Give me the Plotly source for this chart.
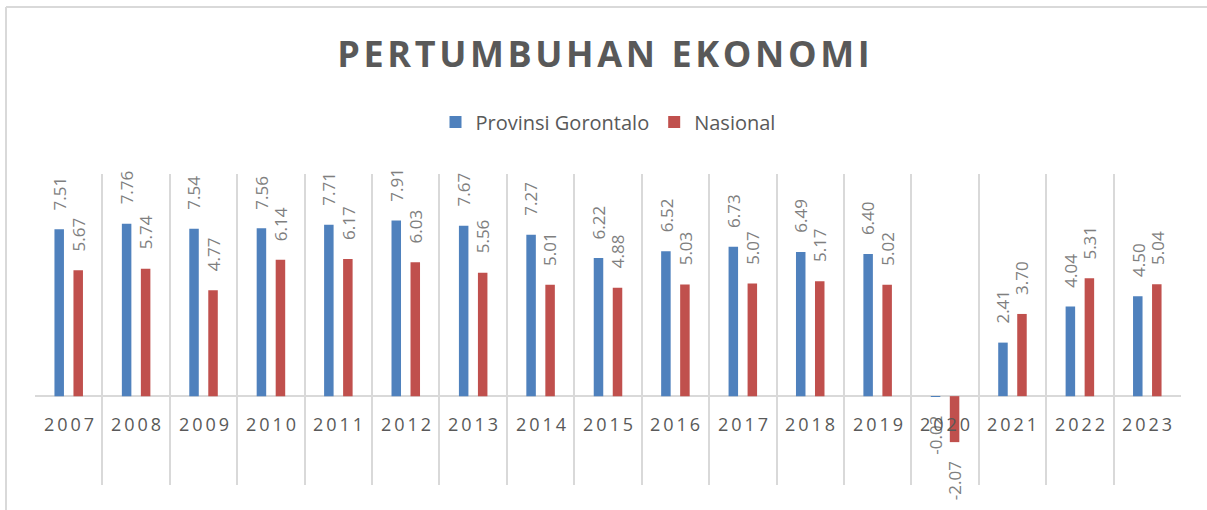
import plotly.graph_objects as go

years = ["2007", "2008", "2009", "2010", "2011", "2012", "2013", "2014", "2015",
         "2016", "2017", "2018", "2019", "2020", "2021", "2022", "2023"]
gorontalo = [7.51, 7.76, 7.54, 7.56, 7.71, 7.91, 7.67, 7.27, 6.22,
             6.52, 6.73, 6.49, 6.40, -0.02, 2.41, 4.04, 4.50]
nasional = [5.67, 5.74, 4.77, 6.14, 6.17, 6.03, 5.56, 5.01, 4.88,
            5.03, 5.07, 5.17, 5.02, -2.07, 3.70, 5.31, 5.04]
title_text = "PERTUMBUHAN EKONOMI"

BLUE = "#4f81bd"
RED = "#c0504d"
FONT = "Open Sans"
TXT = "#595959"
LBL = "#7f7f7f"

fig = go.Figure()
fig.add_trace(go.Bar(name="Provinsi Gorontalo", x=years, y=gorontalo,
                     marker_color=BLUE, marker_line_width=0))
fig.add_trace(go.Bar(name="Nasional", x=years, y=nasional,
                     marker_color=RED, marker_line_width=0))

bargap = 0.436
offset = (1 - bargap) / 4  # centre of each bar slot relative to category centre

annotations = []
for series, sign in ((gorontalo, -1), (nasional, 1)):
    for i, v in enumerate(series):
        annotations.append(dict(
            x=i + sign * offset, y=v, xref="x", yref="y",
            text=f"{v:.2f}", textangle=-90, showarrow=False,
            yanchor="bottom" if v >= 0 else "top",
            yshift=17 if v >= 0 else -17,
            font=dict(family=FONT, size=17, color=LBL)))

for i, yr in enumerate(years):
    annotations.append(dict(
        x=i, y=0, xref="x", yref="y", text="\u2009".join(yr), showarrow=False,
        yanchor="top", yshift=-14, font=dict(family=FONT, size=18, color=TXT)))

fig.update_layout(
    width=1207, height=510,
    margin=dict(l=35, r=26, t=174, b=25),
    paper_bgcolor="white", plot_bgcolor="white",
    barmode="group", bargap=bargap, bargroupgap=0.5,
    title=dict(text="\u200a".join(title_text),
               x=0.5, xanchor="center", y=1 - 54 / 510, yanchor="middle", yref="container",
               font=dict(family=FONT, size=36, color=TXT, weight="bold")),
    showlegend=True,
    legend=dict(orientation="h", x=0.5, xanchor="center", y=1.167, yanchor="middle",
                font=dict(family=FONT, size=20, color=TXT), itemwidth=30),
    xaxis=dict(type="category", range=[-0.5, len(years) - 0.5], tickson="boundaries",
               showticklabels=False, ticks="", showgrid=True, gridcolor="#d9d9d9",
               gridwidth=1.5, zeroline=False, showline=False),
    yaxis=dict(range=[-4, 10], showgrid=False, showticklabels=False, ticks="",
               zeroline=True, zerolinecolor="#d9d9d9", zerolinewidth=2, showline=False),
    annotations=annotations,
    shapes=[
        dict(type="line", xref="paper", yref="paper", x0=-0.0253, x1=-0.0253,
             y0=-0.09, y1=1.537, line=dict(color="#d9d9d9", width=2)),
        dict(type="line", xref="paper", yref="paper", x0=-0.0253, x1=1.03,
             y0=1.537, y1=1.537, line=dict(color="#d9d9d9", width=2)),
    ],
)

fig.write_html("out.html", config={"displayModeBar": False},
               post_script="document.body.style.margin='0';")
